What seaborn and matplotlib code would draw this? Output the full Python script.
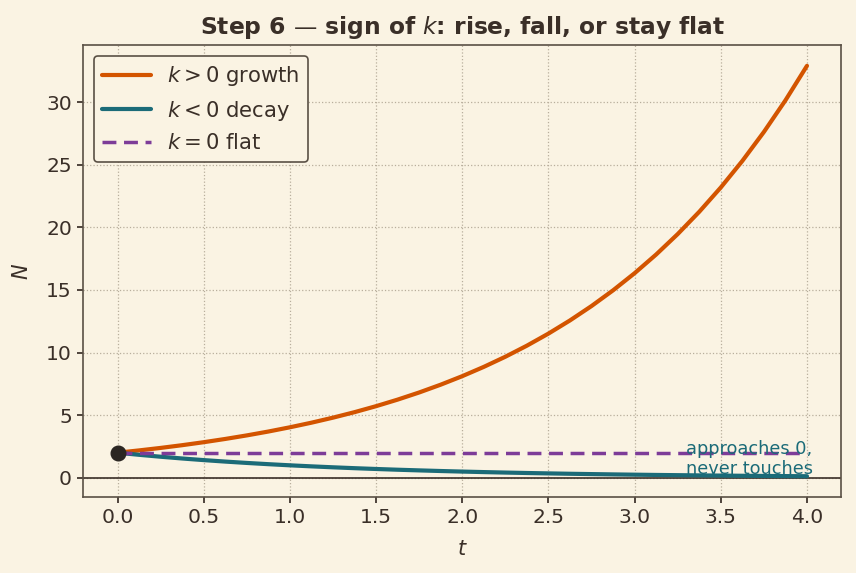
import matplotlib
matplotlib.use("Agg")
import matplotlib.pyplot as plt
import seaborn as sns
import pandas as pd

t_vals = [0.0, 0.125, 0.25, 0.375, 0.5, 0.625, 0.75, 0.875, 1.0, 1.125, 1.25,
          1.375, 1.5, 1.625, 1.75, 1.875, 2.0, 2.125, 2.25, 2.375, 2.5, 2.625,
          2.75, 2.875, 3.0, 3.125, 3.25, 3.375, 3.5, 3.625, 3.75, 3.875, 4.0]
growth = [2.000, 2.183, 2.382, 2.600, 2.838, 3.098, 3.381, 3.690, 4.028,
          4.396, 4.798, 5.236, 5.715, 6.238, 6.808, 7.431, 8.110, 8.852,
          9.661, 10.545, 11.509, 12.561, 13.710, 14.964, 16.332, 17.825,
          19.455, 21.234, 23.176, 25.295, 27.608, 30.132, 32.889]
decay = [2.000, 1.832, 1.679, 1.538, 1.409, 1.291, 1.183, 1.084, 0.993,
         0.910, 0.834, 0.764, 0.700, 0.641, 0.588, 0.538, 0.493, 0.452,
         0.414, 0.379, 0.348, 0.318, 0.292, 0.267, 0.245, 0.224, 0.206,
         0.188, 0.173, 0.158, 0.145, 0.133, 0.122]
flat = [2.0] * len(t_vals)
start_t, start_N = 0.0, 2.0

BG = "#FAF3E3"
TXT = "#3A2F28"
SPINE = "#5A5045"

sns.set_theme(style="whitegrid")
plt.rcParams.update({
    "figure.facecolor": BG, "axes.facecolor": BG,
    "axes.edgecolor": SPINE, "axes.labelcolor": TXT,
    "xtick.color": TXT, "ytick.color": TXT, "text.color": TXT,
    "grid.color": "#B8AE9C", "grid.linestyle": ":", "grid.linewidth": 0.9,
    "xtick.major.size": 4.5, "ytick.major.size": 4.5,
    "xtick.bottom": True, "ytick.left": True,
})
plt.rcParams["font.family"] = ["DejaVu Sans"]

df = pd.DataFrame({"t": t_vals, "growth": growth, "decay": decay, "flat": flat})

fig, ax = plt.subplots(figsize=(8.56, 5.73), dpi=100)
sns.lineplot(data=df, x="t", y="growth", ax=ax, color="#D35400", lw=3,
             label="$k>0$ growth")
sns.lineplot(data=df, x="t", y="decay", ax=ax, color="#1B6B78", lw=3,
             label="$k<0$ decay")
sns.lineplot(data=df, x="t", y="flat", ax=ax, color="#7D3C98", lw=2.5,
             linestyle=(0, (4, 2.2)), label="$k=0$ flat")
ax.axhline(0, color=TXT, lw=1.2, zorder=1)
ax.plot([start_t], [start_N], "o", color="#2B2622", ms=10.5, zorder=5)
ax.text(3.3, 0.0, "approaches 0,\nnever touches", color="#1B6B78",
        fontsize=12.8, va="bottom", ha="left", linespacing=1.15)

ax.set_xlim(-0.2, 4.2)
ax.set_ylim(-1.52, 34.53)
ax.set_xticks([0, 0.5, 1, 1.5, 2, 2.5, 3, 3.5, 4])
ax.set_xlabel("$t$", fontsize=15, labelpad=9)
ax.set_ylabel("$N$", fontsize=15, labelpad=10)
ax.set_title("Step 6 — sign of $k$: rise, fall, or stay flat",
             fontsize=16.8, fontweight="bold", color=TXT, pad=8)
ax.tick_params(labelsize=14.6)
for s in ax.spines.values():
    s.set_visible(True)
    s.set_color(SPINE)
    s.set_linewidth(1.2)

leg = ax.legend(loc="upper left", fontsize=15.2, frameon=True, fancybox=True,
                facecolor=BG, edgecolor=SPINE, framealpha=1, handlelength=2.3)
leg.get_frame().set_linewidth(1.2)

fig.subplots_adjust(left=0.097, right=0.983, top=0.921, bottom=0.133)
fig.savefig("out.png", dpi=100, facecolor=BG)
